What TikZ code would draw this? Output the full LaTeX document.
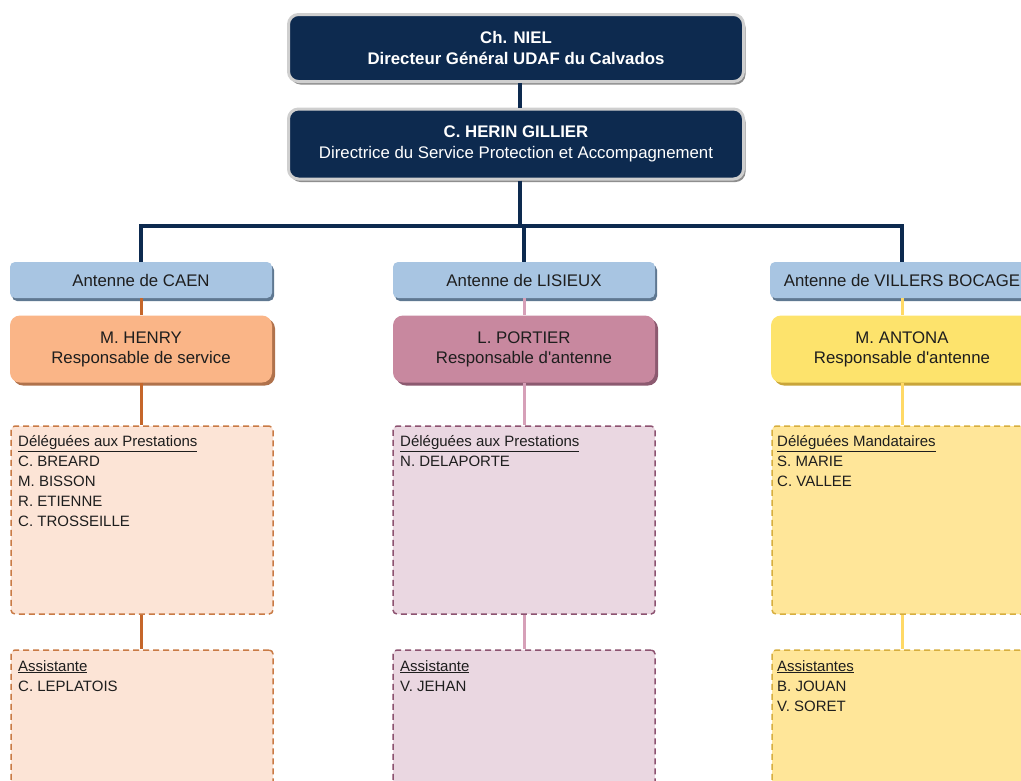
\documentclass[tikz,border=0pt]{standalone}
\usepackage{fontspec}
\setmainfont{Liberation Sans}[Ligatures=TeXOff]
\usetikzlibrary{shadows}
\definecolor{navy}{HTML}{0D2A4F}
\definecolor{rim}{HTML}{CFCFCF}
\definecolor{rimdark}{HTML}{8E8E8E}
\definecolor{antblue}{HTML}{A8C5E2}
\definecolor{antshadow}{HTML}{5F7891}
\definecolor{orfill}{HTML}{FAB587}
\definecolor{orshadow}{HTML}{B0724C}
\definecolor{mafill}{HTML}{C8889F}
\definecolor{mashadow}{HTML}{8C5A70}
\definecolor{yefill}{HTML}{FDE36C}
\definecolor{yeshadow}{HTML}{C9A53A}
\definecolor{orline}{HTML}{C5662A}
\definecolor{maline}{HTML}{D6A0B8}
\definecolor{yeline}{HTML}{FFD966}
\definecolor{ordash}{HTML}{FCE4D6}
\definecolor{ordashb}{HTML}{C97A45}
\definecolor{madash}{HTML}{EAD7E1}
\definecolor{madashb}{HTML}{8C5270}
\definecolor{yedash}{HTML}{FFE699}
\definecolor{yedashb}{HTML}{D7AE3E}
\definecolor{txt}{HTML}{1E1E1E}
\tikzset{
  topbox/.style={draw=rim, line width=3pt, fill=navy, rounded corners=10pt,
    minimum width=455pt, text=white, align=center, font=\fontsize{16.8}{21.5}\selectfont,
    drop shadow={shadow xshift=2pt, shadow yshift=-3pt, fill=rimdark, opacity=1}},
  antbox/.style={fill=antblue, rounded corners=5pt, minimum height=36pt,
    text=txt, font=\fontsize{16.8}{20}\selectfont,
    drop shadow={shadow xshift=2pt, shadow yshift=-3pt, fill=antshadow, opacity=1}},
  persbox/.style={fill=#1fill, rounded corners=10pt, minimum height=67pt, minimum width=262pt,
    text=txt, align=center, font=\fontsize{16.8}{20}\selectfont,
    drop shadow={shadow xshift=3pt, shadow yshift=-3pt, fill=#1shadow, opacity=1}},
  dashbox/.style={fill=#1dash, draw=#1dashb, dashed, dash pattern=on 6pt off 4pt,
    line width=1.5pt, rounded corners=4pt, minimum width=262pt},
  listtext/.style={anchor=north west, align=left, text=txt, inner sep=0pt,
    font=\fontsize{15}{20}\selectfont},
  navyline/.style={draw=navy, line width=3.5pt},
  colline/.style={draw=#1, line width=3pt}
}
\begin{document}
\begin{tikzpicture}[x=1pt, y=-1pt]
\useasboundingbox (0,0) rectangle (1021,780);
\clip (0,0) rectangle (1021,780);
\fill[white] (0,0) rectangle (1021,780);
\coordinate (cx) at (520,0);

\node[topbox, minimum height=67pt] (niel) at (516,48) {\textbf{Ch. NIEL}\\\textbf{Directeur Général UDAF du Calvados}};
\node[topbox, minimum height=70pt] (herin) at (516,144) {\textbf{C. HERIN GILLIER}\\Directrice du Service Protection et Accompagnement};

\node[antbox, minimum width=262pt] (acaen) at (141,280) {Antenne de CAEN};
\node[antbox, minimum width=262pt] (alis) at (524,280) {Antenne de LISIEUX};
\node[antbox, minimum width=264pt] (avil) at (902,280) {Antenne de VILLERS BOCAGE};

\draw[navyline] (niel.south -| cx) -- (herin.north -| cx);
\coordinate (hbar) at (520,226);
\draw[navyline] (herin.south -| cx) -- (hbar);
\draw[navyline] (acaen.north) -- (acaen.north |- hbar) -- (avil.north |- hbar) -- (avil.north);
\draw[navyline] (alis.north) -- (alis.north |- hbar);

% dashed boxes
\node[dashbox=or, minimum height=188pt] (dcaen) at (142,520) {};
\node[dashbox=ma, minimum height=188pt] (dlis) at (524,520) {};
\node[dashbox=ye, minimum height=188pt] (dvil) at (903,520) {};
\node[dashbox=or, minimum height=200pt] (scaen) at (142,750) {};
\node[dashbox=ma, minimum height=200pt] (slis) at (524,750) {};
\node[dashbox=ye, minimum height=200pt] (svil) at (903,750) {};

% person boxes
\node[persbox=or] (henry) at (141,349) {M. HENRY\\Responsable de service};
\node[persbox=ma] (portier) at (524,349) {L. PORTIER\\Responsable d'antenne};
\node[persbox=ye] (antona) at (902,349) {M. ANTONA\\Responsable d'antenne};

% colored connectors
\draw[colline=orline] (acaen.south) -- (henry.north);
\draw[colline=orline] (henry.south) -- (henry.south |- dcaen.north);
\draw[colline=orline] (dcaen.south -| henry.south) -- (henry.south |- scaen.north);
\draw[colline=maline] (alis.south) -- (portier.north);
\draw[colline=maline] (portier.south) -- (portier.south |- dlis.north);
\draw[colline=maline] (dlis.south -| portier.south) -- (portier.south |- slis.north);
\draw[colline=yeline] (avil.south) -- (antona.north);
\draw[colline=yeline] (antona.south) -- (antona.south |- dvil.north);
\draw[colline=yeline] (dvil.south -| antona.south) -- (antona.south |- svil.north);

% list texts
\node[listtext] (tcaen) at (18,435) {\underline{Déléguées aux Prestations}\\C. BREARD\\M. BISSON\\R. ETIENNE\\C. TROSSEILLE};
\node[listtext] (tlis) at (400,435) {\underline{Déléguées aux Prestations}\\N. DELAPORTE};
\node[listtext] (tvil) at (777,435) {\underline{Déléguées Mandataires}\\S. MARIE\\C. VALLEE};
\node[listtext] (ucaen) at (18,660) {\underline{Assistante}\\C. LEPLATOIS};
\node[listtext] (ulis) at (400,660) {\underline{Assistante}\\V. JEHAN};
\node[listtext] (uvil) at (777,660) {\underline{Assistantes}\\B. JOUAN\\V. SORET};
\end{tikzpicture}
\end{document}
